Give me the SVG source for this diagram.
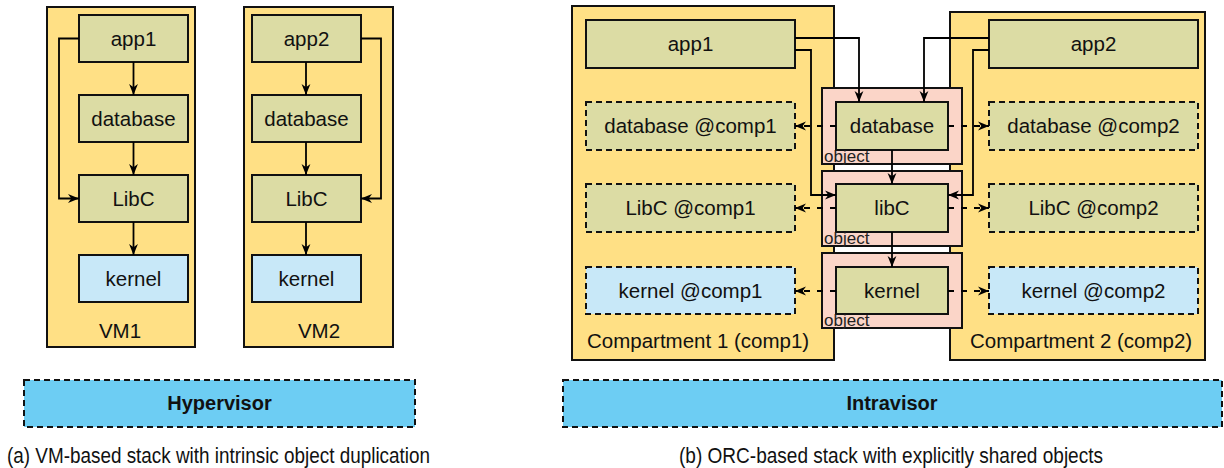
<svg xmlns="http://www.w3.org/2000/svg" width="1224" height="468" viewBox="0 0 1224 468">
  <defs>
    <marker id="arrow" viewBox="0 0 10 10" refX="10" refY="5" markerWidth="11" markerHeight="11" markerUnits="userSpaceOnUse" orient="auto">
      <path d="M0,1 L10,5 L0,9 L3,5 z" fill="#000"/>
    </marker>
    <style>
      text { font-family: "Liberation Sans", Arial, Helvetica, sans-serif; fill: #111; }
      .lbl { font-size: 20.5px; text-anchor: middle; }
      .cap { font-size: 20.5px; }
      .caption { font-size: 22px; }
      .bold { font-size: 20px; font-weight: bold; text-anchor: middle; }
      .obj-lbl { font-size: 17px; fill: #222; }
      .container { fill: #FFE085; stroke: #111; stroke-width: 2; }
      .mod { fill: #DCDCA4; stroke: #111; stroke-width: 2; }
      .kern { fill: #C8E8F8; stroke: #111; stroke-width: 2; }
      .dup { stroke-dasharray: 6 4; }
      .obj { fill: #FBD5C8; stroke: #111; stroke-width: 2; }
      .visor { fill: #6DCDF3; stroke: #111; stroke-width: 2; stroke-dasharray: 6 4; }
      .edge { fill: none; stroke: #000; stroke-width: 1.8; marker-end: url(#arrow); }
      .share { stroke-dasharray: 6 7; }
    </style>
  </defs>

  <!-- (a) VM-based stack -->
  <g id="vm1">
    <rect class="container" x="47" y="7" width="148" height="340"/>
    <text class="lbl" x="120" y="338">VM1</text>
  </g>
  <g id="vm2">
    <rect class="container" x="244" y="7" width="149" height="340"/>
    <text class="lbl" x="319" y="338">VM2</text>
  </g>
  <g id="vm1-app1">
    <rect class="mod" x="79" y="15" width="109" height="47"/>
    <text class="lbl" x="133.5" y="45.5">app1</text>
  </g>
  <g id="vm1-database">
    <rect class="mod" x="79" y="95" width="109" height="47"/>
    <text class="lbl" x="133.5" y="125.5">database</text>
  </g>
  <g id="vm1-libc">
    <rect class="mod" x="79" y="175" width="109" height="47"/>
    <text class="lbl" x="133.5" y="205.5">LibC</text>
  </g>
  <g id="vm1-kernel">
    <rect class="kern" x="79" y="255" width="109" height="47"/>
    <text class="lbl" x="133.5" y="285.5">kernel</text>
  </g>
  <g id="vm2-app2">
    <rect class="mod" x="252" y="15" width="109" height="47"/>
    <text class="lbl" x="306.5" y="45.5">app2</text>
  </g>
  <g id="vm2-database">
    <rect class="mod" x="252" y="95" width="109" height="47"/>
    <text class="lbl" x="306.5" y="125.5">database</text>
  </g>
  <g id="vm2-libc">
    <rect class="mod" x="252" y="175" width="109" height="47"/>
    <text class="lbl" x="306.5" y="205.5">LibC</text>
  </g>
  <g id="vm2-kernel">
    <rect class="kern" x="252" y="255" width="109" height="47"/>
    <text class="lbl" x="306.5" y="285.5">kernel</text>
  </g>
  <g id="hypervisor">
    <rect class="visor" x="24" y="380" width="391" height="47"/>
    <text class="bold" x="219.5" y="410">Hypervisor</text>
  </g>

  <!-- (b) ORC-based stack -->
  <g id="comp1">
    <rect class="container" x="572" y="6" width="262" height="354"/>
    <text class="cap" x="587" y="348">Compartment 1 (comp1)</text>
  </g>
  <g id="comp2">
    <rect class="container" x="950" y="12" width="255" height="348"/>
    <text class="cap" x="970" y="348">Compartment 2 (comp2)</text>
  </g>
  <g id="comp1-app1">
    <rect class="mod" x="586" y="20" width="209" height="48"/>
    <text class="lbl" x="690.5" y="51">app1</text>
  </g>
  <g id="comp2-app2">
    <rect class="mod" x="989" y="20" width="209" height="48"/>
    <text class="lbl" x="1093.5" y="51">app2</text>
  </g>
  <g id="comp1-database">
    <rect class="mod dup" x="586" y="102" width="209" height="48"/>
    <text class="lbl" x="690.5" y="133">database @comp1</text>
  </g>
  <g id="comp1-libc">
    <rect class="mod dup" x="586" y="184" width="209" height="48"/>
    <text class="lbl" x="690.5" y="215">LibC @comp1</text>
  </g>
  <g id="comp1-kernel">
    <rect class="kern dup" x="586" y="267" width="209" height="47"/>
    <text class="lbl" x="690.5" y="297.5">kernel @comp1</text>
  </g>
  <g id="comp2-database">
    <rect class="mod dup" x="989" y="102" width="209" height="48"/>
    <text class="lbl" x="1093.5" y="133">database @comp2</text>
  </g>
  <g id="comp2-libc">
    <rect class="mod dup" x="989" y="184" width="209" height="48"/>
    <text class="lbl" x="1093.5" y="215">LibC @comp2</text>
  </g>
  <g id="comp2-kernel">
    <rect class="kern dup" x="989" y="267" width="209" height="47"/>
    <text class="lbl" x="1093.5" y="297.5">kernel @comp2</text>
  </g>

  <!-- shared objects -->
  <g id="obj-database">
    <rect class="obj" x="822" y="88" width="140" height="76"/>
    <rect class="mod" x="836" y="102" width="112" height="48"/>
    <text class="lbl" x="892" y="133">database</text>
    <text class="obj-lbl" x="824" y="162">object</text>
  </g>
  <g id="obj-libc">
    <rect class="obj" x="822" y="171" width="140" height="75"/>
    <rect class="mod" x="836" y="184" width="112" height="48"/>
    <text class="lbl" x="892" y="215">libC</text>
    <text class="obj-lbl" x="824" y="244">object</text>
  </g>
  <g id="obj-kernel">
    <rect class="obj" x="822" y="253" width="140" height="75"/>
    <rect class="mod" x="836" y="267" width="112" height="47"/>
    <text class="lbl" x="892" y="297.5">kernel</text>
    <text class="obj-lbl" x="824" y="326">object</text>
  </g>

  <g id="intravisor">
    <rect class="visor" x="563" y="380" width="659" height="47"/>
    <text class="bold" x="892" y="410">Intravisor</text>
  </g>

  <!-- connectors -->
  <g id="connectors">
    <!-- VM1 -->
    <path class="edge" d="M133.5,62 V95"/>
    <path class="edge" d="M133.5,142 V175"/>
    <path class="edge" d="M133.5,222 V255"/>
    <path class="edge" d="M79,38.5 H59 V198.5 H79"/>
    <!-- VM2 -->
    <path class="edge" d="M306,62 V95"/>
    <path class="edge" d="M306,142 V175"/>
    <path class="edge" d="M306,222 V255"/>
    <path class="edge" d="M361,38.5 H381 V198.5 H361"/>
    <!-- apps into shared objects -->
    <path class="edge" d="M795,38 H859 V102"/>
    <path class="edge" d="M795,50 H811 V195 H836"/>
    <path class="edge" d="M989,38 H924 V102"/>
    <path class="edge" d="M989,50 H973 V195 H948"/>
    <path class="edge" d="M892,150 V184"/>
    <path class="edge" d="M892,232 V267"/>
    <!-- object sharing into compartments -->
    <path class="edge share" d="M836,126 H795"/>
    <path class="edge share" d="M836,208 H795"/>
    <path class="edge share" d="M836,291 H795"/>
    <path class="edge share" d="M948,126 H989"/>
    <path class="edge share" d="M948,208 H989"/>
    <path class="edge share" d="M948,291 H989"/>
  </g>

  <!-- captions -->
  <text class="caption" x="7" y="463" textLength="423" lengthAdjust="spacingAndGlyphs">(a) VM-based stack with intrinsic object duplication</text>
  <text class="caption" x="679" y="463" textLength="424" lengthAdjust="spacingAndGlyphs">(b) ORC-based stack with explicitly shared objects</text>
</svg>
